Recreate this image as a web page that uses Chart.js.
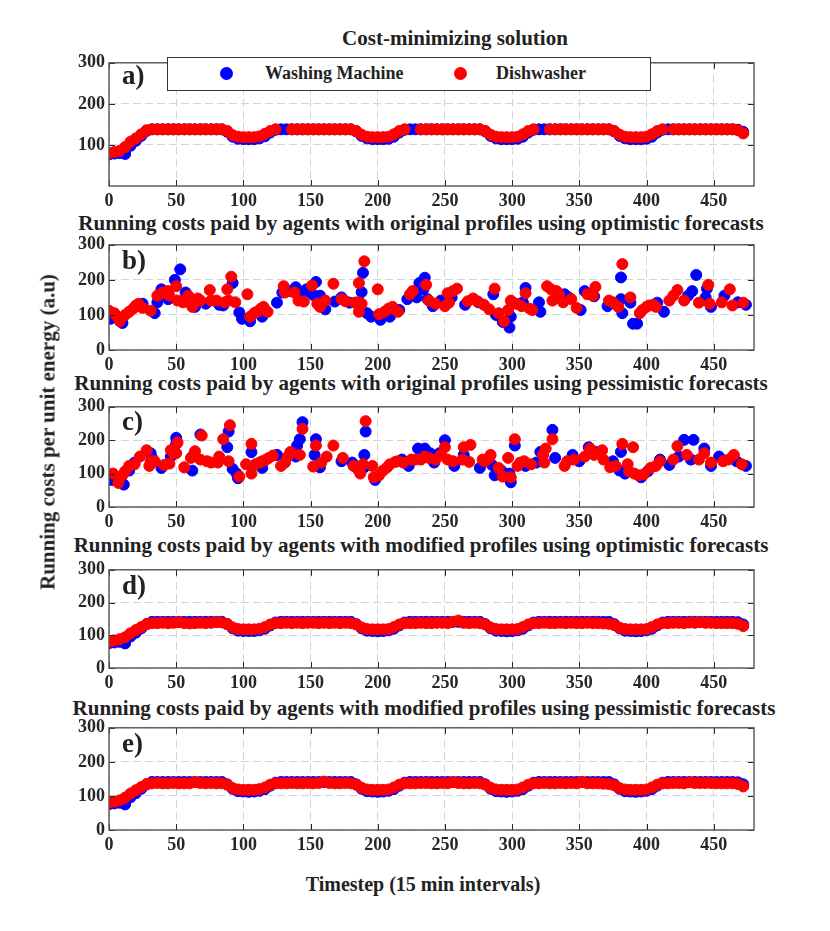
<!DOCTYPE html>
<html lang="en">

<head>
    <meta charset="UTF-8">
    <title>Running costs per unit energy</title>
    <script src="https://cdn.jsdelivr.net/npm/chart.js"></script>
    <style>
        body {
            margin: 0;
            background: #fff;
            font-family: "Liberation Serif", "DejaVu Serif", serif;
            font-weight: bold;
            color: #222;
        }

        #page {
            position: relative;
            width: 830px;
            height: 931px;
            overflow: hidden;
        }

        canvas {
            position: absolute;
            left: 0;
        }

        .title {
            position: absolute;
            font-size: 21px;
            white-space: nowrap;
            transform: translate(-50%, -50%);
        }

        .tag {
            position: absolute;
            font-size: 27px;
            left: 122px;
        }

        #legend {
            position: absolute;
            left: 167px;
            top: 57px;
            width: 482px;
            height: 32px;
            border: 1px solid #333;
            background: #fff;
            font-size: 18px;
        }

        #legend span {
            position: absolute;
            top: 5px;
        }

        #legend i {
            position: absolute;
            top: 9px;
            width: 13px;
            height: 13px;
            border-radius: 50%;
        }

        #ylabel {
            position: absolute;
            left: 48px;
            top: 432px;
            font-size: 21px;
            white-space: nowrap;
            transform: translate(-50%, -50%) rotate(-90deg);
        }

        #xlabel {
            position: absolute;
            left: 423px;
            top: 884px;
            font-size: 20px;
            white-space: nowrap;
            transform: translate(-50%, -50%);
        }
    </style>
</head>

<body>
    <div id="page">
        <div class="title" style="left:455px;top:38px">Cost-minimizing solution</div>
        <div class="title" style="left:421px;top:223px">Running costs paid by agents with original profiles using optimistic forecasts</div>
        <div class="title" style="left:421px;top:383px">Running costs paid by agents with original profiles using pessimistic forecasts</div>
        <div class="title" style="left:421px;top:545px">Running costs paid by agents with modified profiles using optimistic forecasts</div>
        <div class="title" style="left:424px;top:708px">Running costs paid by agents with modified profiles using pessimistic forecasts</div>

        <canvas id="chartA"></canvas>
        <canvas id="chartB"></canvas>
        <canvas id="chartC"></canvas>
        <canvas id="chartD"></canvas>
        <canvas id="chartE"></canvas>

        <div class="tag" style="top:60px">a)</div>
        <div class="tag" style="top:245px">b)</div>
        <div class="tag" style="top:406px">c)</div>
        <div class="tag" style="top:570px">d)</div>
        <div class="tag" style="top:728px">e)</div>

        <div id="legend">
            <i style="left:52px;background:#0000ff"></i>
            <span style="left:97px">Washing Machine</span>
            <i style="left:286px;background:#ff0000"></i>
            <span style="left:328px">Dishwasher</span>
        </div>

        <div id="ylabel">Running costs per unit energy (a.u)</div>
        <div id="xlabel">Timestep (15 min intervals)</div>
    </div>

    <script>
        // tick labels
        const xTicks = [0, 50, 100, 150, 200, 250, 300, 350, 400, 450];
        const yTicksTop = [100, 200, 300];
        const yTicks = [0, 100, 200, 300];

        // timesteps sampled for the smooth panels (a, d, e)
        const smoothT = [
            0, 4, 8, 12, 16, 20, 24, 28, 32, 36, 40, 44,
            48, 52, 56, 60, 64, 68, 72, 76, 80, 84, 88, 92,
            96, 100, 104, 108, 112, 116, 120, 124, 128, 132, 136, 140,
            144, 148, 152, 156, 160, 164, 168, 172, 176, 180, 184, 188,
            192, 196, 200, 204, 208, 212, 216, 220, 224, 228, 232, 236,
            240, 244, 248, 252, 256, 260, 264, 268, 272, 276, 280, 284,
            288, 292, 296, 300, 304, 308, 312, 316, 320, 324, 328, 332,
            336, 340, 344, 348, 352, 356, 360, 364, 368, 372, 376, 380,
            384, 388, 392, 396, 400, 404, 408, 412, 416, 420, 424, 428,
            432, 436, 440, 444, 448, 452, 456, 460, 464, 468, 472
        ];

        // a) cost-minimizing solution
        const aWash = [
            77, 79, 80, 78, 98, 110, 122, 134, 138, 138, 138, 138,
            138, 138, 138, 138, 138, 138, 138, 138, 138, 138, 132, 120,
            115, 114, 114, 114, 116, 121, 130, 137, 138, 138, 138, 138,
            138, 138, 138, 138, 138, 138, 138, 138, 138, 138, 133, 122,
            116, 114, 114, 114, 115, 120, 130, 137, 138, 138, 138, 138,
            138, 138, 138, 138, 138, 138, 138, 138, 138, 138, 133, 122,
            116, 114, 114, 114, 115, 120, 130, 137, 138, 138, 138, 138,
            138, 138, 138, 138, 138, 138, 138, 138, 138, 138, 133, 122,
            116, 114, 114, 114, 115, 120, 130, 137, 138, 138, 138, 138,
            138, 138, 138, 138, 138, 138, 138, 138, 138, 137, 132
        ];
        const aDish = [
            80, 83, 86, 95, 108, 116, 126, 136, 138, 138, 138, 138,
            138, 138, 138, 138, 138, 138, 138, 138, 138, 138, 134, 124,
            120, 119, 119, 119, 121, 127, 134, 138, null, null, 138, 138,
            138, 138, 138, 138, 138, 138, 138, 138, 138, 138, 134, 125,
            120, 119, 119, 119, 120, 126, 134, 138, null, null, 138, 138,
            138, 138, 138, 138, 138, 138, 138, 138, 138, 138, 134, 125,
            120, 119, 119, 119, 120, 126, 134, 138, null, null, 138, 138,
            138, 138, 138, 138, 138, 138, 138, 138, 138, 138, 134, 125,
            120, 119, 119, 119, 120, 126, 134, 138, null, 138, 138, 138,
            138, 138, 138, 138, 138, 138, 138, 138, 138, 136, 128
        ];

        // b) original profiles, optimistic forecasts  [timestep, cost]
        const bWash = [
            [1, 89], [10, 77], [25, 132], [34, 105], [36, 136], [39, 173], [44, 145], [49, 200], [53, 230], [57, 164],
            [64, 123], [72, 132], [82, 129], [85, 127], [92, 191], [97, 107], [99, 89], [105, 82], [114, 95], [125, 135],
            [129, 164], [135, 168], [139, 179], [145, 164], [147, 173], [152, 157], [154, 194], [157, 155], [161, 116], [168, 138],
            [173, 150], [179, 135], [188, 165], [189, 220], [192, 105], [195, 95], [202, 86], [209, 95], [216, 114], [222, 145],
            [229, 150], [231, 191], [234, 173], [235, 206], [237, 145], [241, 125], [247, 141], [255, 150], [265, 129], [275, 136],
            [286, 159], [288, 100], [293, 80], [298, 64], [299, 95], [308, 136], [310, 177], [320, 136], [321, 109], [339, 159],
            [342, 150], [351, 114], [354, 168], [361, 153], [371, 125], [381, 145], [381, 207], [382, 105], [388, 135], [390, 75],
            [393, 75], [408, 135], [413, 109], [431, 155], [434, 168], [437, 214], [444, 150], [445, 175], [448, 123], [458, 155],
            [468, 136], [474, 129]
        ];
        const bDish = [
            [0, 112], [4, 105], [6, 95], [8, 82], [12, 100], [15, 109], [18, 118], [20, 127], [22, 132], [25, 120],
            [31, 112], [36, 155], [40, 164], [44, 168], [45, 155], [50, 182], [51, 141], [55, 136], [59, 155], [60, 136],
            [62, 123], [66, 147], [68, 141], [75, 171], [76, 141], [80, 141], [86, 136], [88, 173], [89, 141], [91, 209],
            [94, 136], [103, 159], [105, 95], [108, 105], [110, 109], [113, 118], [115, 123], [118, 109], [130, 182], [131, 164],
            [138, 164], [141, 141], [145, 138], [151, 184], [155, 132], [157, 123], [161, 141], [167, 189], [173, 145], [176, 139],
            [183, 135], [185, 136], [186, 191], [186, 109], [188, 132], [190, 253], [200, 173], [201, 102], [205, 109], [208, 118],
            [211, 123], [215, 109], [224, 159], [226, 168], [236, 186], [238, 141], [243, 132], [250, 125], [252, 162], [253, 135],
            [256, 168], [259, 175], [267, 139], [271, 147], [274, 139], [279, 129], [283, 116], [287, 175], [290, 105], [294, 82],
            [297, 114], [299, 141], [303, 132], [307, 125], [310, 162], [313, 118], [315, 114], [326, 182], [329, 173], [330, 141],
            [333, 168], [335, 159], [338, 136], [344, 145], [348, 120], [356, 159], [360, 155], [362, 180], [372, 141], [375, 136],
            [379, 123], [382, 245], [388, 150], [395, 105], [397, 114], [400, 123], [402, 127], [405, 129], [407, 123], [417, 141],
            [420, 155], [423, 171], [428, 141], [439, 135], [446, 186], [447, 132], [456, 136], [462, 173], [464, 127], [472, 135]
        ];

        // c) original profiles, pessimistic forecasts
        const cWash = [
            [2, 81], [11, 67], [15, 109], [19, 133], [31, 161], [32, 147], [39, 117], [46, 151], [50, 189], [50, 207],
            [62, 109], [63, 156], [68, 217], [88, 179], [89, 226], [92, 114], [95, 100], [96, 86], [106, 164], [114, 117],
            [125, 156], [139, 151], [140, 184], [142, 203], [144, 254], [153, 156], [154, 203], [157, 119], [173, 137], [181, 133],
            [190, 119], [190, 156], [191, 226], [198, 81], [218, 142], [223, 123], [230, 175], [235, 175], [239, 161], [242, 133],
            [246, 161], [250, 200], [257, 123], [264, 156], [276, 117], [285, 126], [287, 95], [292, 109], [298, 100], [299, 74],
            [302, 184], [310, 123], [318, 133], [321, 165], [330, 231], [332, 147], [345, 156], [350, 137], [357, 179], [362, 165],
            [375, 137], [380, 109], [381, 165], [384, 100], [396, 89], [401, 107], [410, 142], [417, 126], [424, 151], [428, 201],
            [433, 142], [435, 201], [443, 175], [448, 123], [454, 151], [467, 137], [474, 123]
        ];
        const cDish = [
            [3, 100], [7, 72], [10, 95], [12, 107], [15, 123], [19, 128], [23, 151], [28, 170], [30, 123], [31, 137],
            [34, 137], [41, 126], [45, 130], [46, 170], [48, 161], [50, 161], [51, 193], [56, 119], [61, 147], [64, 167],
            [68, 142], [69, 214], [73, 137], [76, 133], [81, 133], [82, 151], [85, 203], [89, 137], [90, 245], [97, 91],
            [102, 128], [106, 100], [106, 189], [109, 128], [112, 133], [114, 137], [117, 142], [119, 147], [122, 154], [128, 123],
            [131, 133], [133, 151], [135, 165], [142, 156], [144, 234], [152, 121], [154, 184], [158, 133], [162, 151], [167, 184],
            [174, 147], [182, 123], [185, 114], [187, 100], [189, 128], [191, 257], [196, 123], [197, 89], [201, 95], [204, 109],
            [207, 119], [209, 128], [213, 135], [215, 137], [219, 133], [225, 142], [228, 142], [232, 142], [235, 151], [238, 147],
            [243, 142], [247, 156], [250, 179], [252, 142], [256, 137], [263, 142], [264, 179], [268, 135], [269, 186], [278, 142],
            [280, 137], [283, 147], [284, 156], [290, 117], [293, 91], [297, 147], [299, 89], [302, 203], [304, 123], [306, 133],
            [309, 137], [314, 128], [323, 156], [324, 133], [325, 175], [330, 203], [339, 123], [341, 137], [346, 142], [354, 151],
            [358, 175], [361, 156], [367, 170], [368, 142], [373, 119], [377, 123], [382, 189], [386, 128], [387, 107], [390, 179],
            [391, 100], [394, 95], [398, 98], [403, 117], [407, 123], [410, 137], [420, 142], [423, 182], [430, 156], [439, 142],
            [443, 161], [448, 133], [457, 137], [461, 142], [465, 156], [471, 128]
        ];

        // d) modified profiles, optimistic forecasts
        const dWash = [
            76, 78, 80, 75, 96, 108, 121, 134, 141, 141, 141, 141,
            141, 141, 141, 141, 141, 141, 141, 141, 141, 141, 134, 121,
            114, 113, 113, 113, 115, 120, 130, 139, 141, 141, 141, 141,
            141, 141, 141, 141, 141, 141, 141, 141, 141, 141, 134, 121,
            114, 113, 112, 113, 115, 120, 130, 139, 141, 141, 141, 141,
            141, 141, 141, 141, 141, 141, 141, 141, 141, 141, 134, 121,
            114, 113, 112, 113, 115, 120, 130, 139, 141, 141, 141, 141,
            141, 141, 141, 141, 141, 141, 141, 141, 141, 141, 134, 121,
            114, 113, 112, 113, 115, 120, 130, 139, 141, 141, 141, 141,
            141, 141, 141, 141, 141, 141, 141, 141, 141, 140, 133
        ];
        const dDish = [
            80, 84, 88, 94, 106, 116, 125, 134, 137, 137, 138, 137,
            138, 140, 137, 136, 137, 138, 137, 138, 140, 139, 134, 124,
            119, 118, 118, 118, 120, 125, 133, 137, 137, 138, 137, 138,
            137, 138, 138, 137, 138, 137, 138, 137, 138, 137, 133, 124,
            119, 118, 118, 118, 119, 125, 133, 137, 137, 137, 138, 137,
            137, 138, 138, 137, 141, 145, 138, 137, 138, 137, 133, 124,
            119, 118, 118, 118, 119, 125, 133, 137, 137, 138, 137, 137,
            138, 137, 138, 137, 137, 138, 137, 137, 136, 135, 131, 123,
            119, 118, 118, 118, 119, 125, 133, 137, 137, 138, 138, 137,
            139, 138, 140, 138, 138, 137, 137, 137, 137, 135, 128
        ];

        // e) modified profiles, pessimistic forecasts
        const eWash = [
            76, 78, 80, 75, 96, 108, 121, 134, 141, 141, 141, 141,
            141, 141, 141, 141, 141, 141, 141, 141, 141, 141, 134, 121,
            114, 113, 112, 113, 115, 120, 130, 139, 141, 141, 141, 141,
            141, 141, 141, 141, 141, 141, 141, 141, 141, 141, 134, 121,
            114, 113, 112, 113, 115, 120, 130, 139, 141, 141, 141, 141,
            141, 141, 141, 141, 141, 141, 141, 141, 141, 141, 134, 121,
            114, 113, 112, 113, 115, 120, 130, 139, 141, 141, 141, 141,
            141, 141, 141, 141, 141, 141, 141, 141, 141, 141, 134, 121,
            114, 113, 112, 113, 115, 120, 130, 139, 141, 141, 141, 141,
            141, 141, 141, 141, 141, 141, 141, 141, 141, 140, 134
        ];
        const eDish = [
            80, 83, 87, 95, 107, 117, 126, 135, 137, 138, 137, 137,
            138, 137, 137, 137, 141, 138, 137, 138, 137, 137, 133, 123,
            119, 118, 118, 118, 120, 125, 133, 137, 137, 137, 138, 137,
            137, 138, 137, 138, 142, 138, 137, 137, 138, 137, 133, 124,
            119, 118, 118, 118, 119, 125, 133, 137, 137, 137, 138, 138,
            137, 137, 138, 137, 141, 138, 137, 137, 138, 137, 133, 124,
            119, 118, 118, 118, 119, 125, 133, 137, 137, 138, 137, 137,
            138, 137, 138, 137, 141, 137, 137, 137, 136, 135, 131, 123,
            119, 118, 118, 118, 119, 125, 133, 137, 137, 138, 138, 137,
            140, 138, 138, 138, 138, 137, 137, 137, 137, 135, 128
        ];

        const BLUE = '#0000ff';
        const RED = '#ff0000';
        const INK = '#262626';
        const FONT = { family: '"Liberation Serif", serif', size: 18, weight: 'bold' };

        const fromSeries = (ys) => smoothT.map((t, i) => ({ x: t, y: ys[i] }));
        const fromPairs = (pairs) => pairs.map(p => ({ x: p[0], y: p[1] }));

        // box round the axes with inward tick marks, like the original figure
        const axesBox = {
            id: 'axesBox',
            afterDraw(chart) {
                const { ctx, chartArea: a, scales } = chart;
                ctx.save();
                ctx.strokeStyle = INK;
                ctx.lineWidth = 1;
                scales.x.ticks.forEach(t => {
                    const px = Math.round(scales.x.getPixelForValue(t.value)) + 0.5;
                    ctx.beginPath();
                    ctx.moveTo(px, a.bottom); ctx.lineTo(px, a.bottom - 6);
                    ctx.moveTo(px, a.top); ctx.lineTo(px, a.top + 6);
                    ctx.stroke();
                });
                scales.y.ticks.forEach(t => {
                    const py = Math.round(scales.y.getPixelForValue(t.value)) + 0.5;
                    ctx.beginPath();
                    ctx.moveTo(a.left, py); ctx.lineTo(a.left + 6, py);
                    ctx.moveTo(a.right, py); ctx.lineTo(a.right - 6, py);
                    ctx.stroke();
                });
                ctx.strokeStyle = '#555';
                ctx.lineWidth = 1.4;
                ctx.strokeRect(a.left, a.top, a.right - a.left, a.bottom - a.top);
                ctx.restore();
            }
        };

        function makePanel(id, top, bottom, wash, dish, yList) {
            const padTop = 10, xAxisH = 34;
            const canvas = document.getElementById(id);
            canvas.width = 830;
            canvas.height = padTop + (bottom - top) + xAxisH;
            canvas.style.top = (top - padTop) + 'px';

            new Chart(canvas, {
                type: 'scatter',
                data: {
                    datasets: [
                        { label: 'Washing Machine', data: wash, backgroundColor: BLUE, borderColor: BLUE, order: 2 },
                        { label: 'Dishwasher', data: dish, backgroundColor: RED, borderColor: RED, order: 1 }
                    ]
                },
                options: {
                    responsive: false,
                    animation: false,
                    devicePixelRatio: 1,
                    layout: { padding: { left: 0, right: 76, top: padTop, bottom: 0 } },
                    elements: { point: { radius: 5.5, borderWidth: 1 } },
                    plugins: { legend: { display: false }, tooltip: { enabled: false } },
                    scales: {
                        x: {
                            type: 'linear', min: 0, max: 480,
                            afterBuildTicks: s => { s.ticks = xTicks.map(v => ({ value: v })); },
                            afterFit: s => { s.height = xAxisH; },
                            ticks: { font: FONT, color: INK, padding: 5, maxRotation: 0 },
                            grid: { color: '#d4d4d4', lineWidth: 1, drawTicks: false },
                            border: { display: false, dash: [8, 4] }
                        },
                        y: {
                            type: 'linear', min: 0, max: 300,
                            afterBuildTicks: s => { s.ticks = yList.map(v => ({ value: v })); },
                            afterFit: s => { s.width = 109; },
                            ticks: { font: FONT, color: INK, padding: 4 },
                            grid: { color: '#d4d4d4', lineWidth: 1, drawTicks: false },
                            border: { display: false, dash: [8, 4] }
                        }
                    }
                },
                plugins: [axesBox]
            });
        }

        makePanel('chartA', 58, 186, fromSeries(aWash), fromSeries(aDish), yTicksTop);
        makePanel('chartB', 240, 350, fromPairs(bWash), fromPairs(bDish), yTicks);
        makePanel('chartC', 402, 507, fromPairs(cWash), fromPairs(cDish), yTicks);
        makePanel('chartD', 565, 668, fromSeries(dWash), fromSeries(dDish), yTicks);
        makePanel('chartE', 723, 830, fromSeries(eWash), fromSeries(eDish), yTicks);
    </script>
</body>

</html>
